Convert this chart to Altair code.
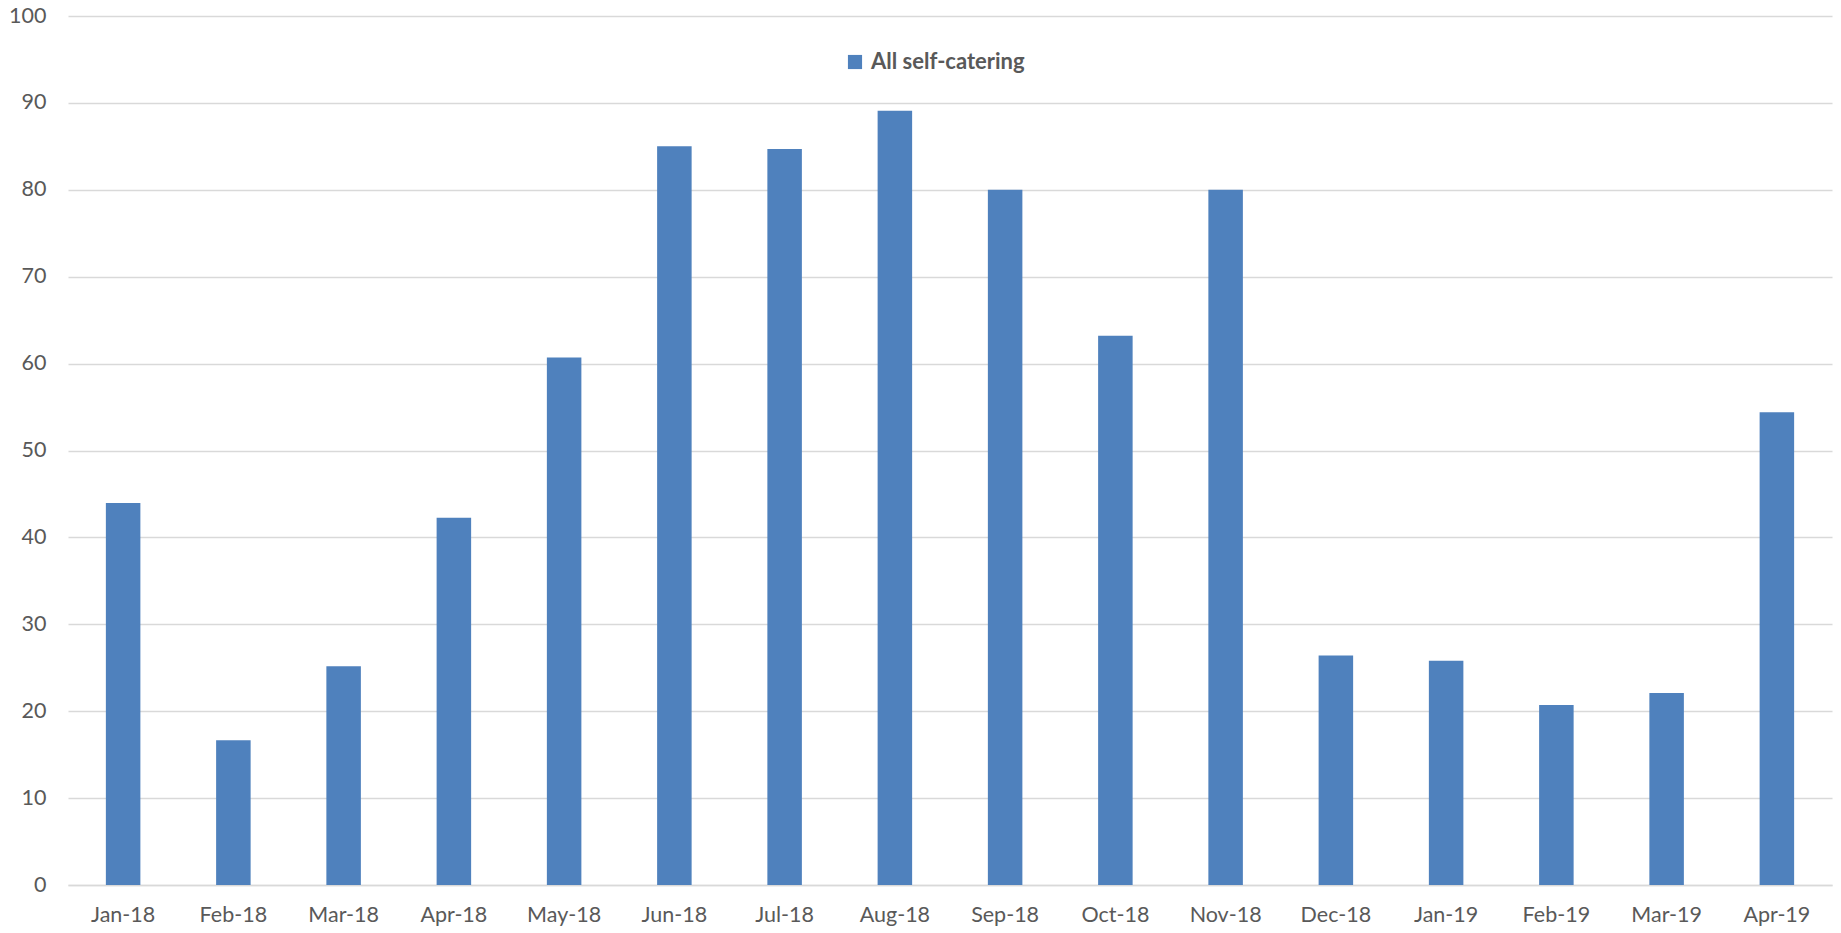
import altair as alt
import pandas as pd

months = ["Jan-18", "Feb-18", "Mar-18", "Apr-18", "May-18", "Jun-18", "Jul-18", "Aug-18",
          "Sep-18", "Oct-18", "Nov-18", "Dec-18", "Jan-19", "Feb-19", "Mar-19", "Apr-19"]
values = [43.95, 16.67, 25.17, 42.25, 60.7, 85.0, 84.7, 89.1,
          80.0, 63.2, 80.0, 26.4, 25.8, 20.7, 22.1, 54.4]
series_name = "All self-catering"
y_ticks = [0, 10, 20, 30, 40, 50, 60, 70, 80, 90, 100]

df = pd.DataFrame({"month": months, "value": values, "series": [series_name] * len(months)})

FONT = "Lato"
GREY = "#595959"

chart = alt.Chart(df).mark_bar(color="#4F81BD").encode(
    x=alt.X("month:N", sort=months, title=None,
            scale=alt.Scale(paddingInner=0.687, paddingOuter=0.3435),
            axis=alt.Axis(labelAngle=0, labelFont=FONT, labelFontSize=21.5, labelColor=GREY,
                          ticks=False, domainColor="#d9d9d9", domainWidth=1.5,
                          labelPadding=19, grid=False)),
    y=alt.Y("value:Q", title=None,
            scale=alt.Scale(domain=[0, 100], nice=False),
            axis=alt.Axis(values=y_ticks, labelFont=FONT, labelFontSize=21.5, labelColor=GREY,
                          ticks=False, domain=False, gridColor="#d9d9d9", gridWidth=1.5,
                          labelPadding=22)),
    fill=alt.Fill("series:N", scale=alt.Scale(range=["#4F81BD"]),
                  legend=alt.Legend(title=None, orient="none", legendX=776, legendY=35,
                                    symbolType="square", symbolSize=200, symbolStrokeWidth=0,
                                    labelFont=FONT, labelFontSize=22, labelFontWeight="bold",
                                    labelColor=GREY, labelOffset=5)),
).properties(
    width=1764, height=869,
    background="white",
    autosize=alt.AutoSizeParams(type="none"),
    padding={"left": 68, "top": 16, "right": 9, "bottom": 48},
).configure_view(stroke=None)

chart.save("out.html", embed_options={"renderer": "svg", "actions": False})
